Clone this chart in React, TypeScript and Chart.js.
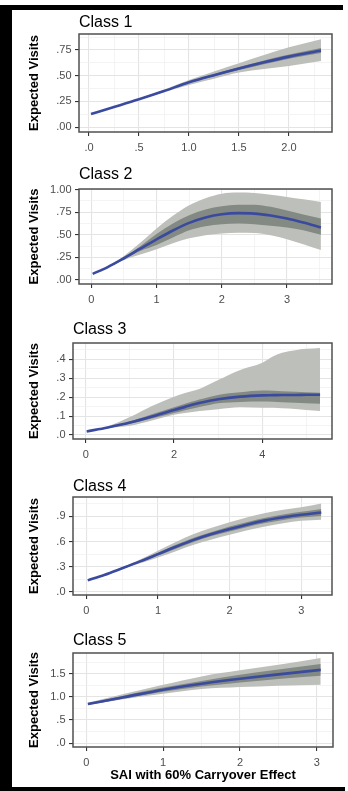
import React, { useEffect, useRef } from "react";
import { Chart, registerables } from "chart.js";

Chart.register(...registerables);

// ---------------- DATA ----------------
const classTitles = ["Class 1", "Class 2", "Class 3", "Class 4", "Class 5"];
const yAxisTitle = "Expected Visits";
const xAxisTitle = "SAI with 60% Carryover Effect";

// Class 1
const class1X = [0.02, 0.25, 0.5, 0.75, 1.0, 1.25, 1.5, 1.75, 2.0, 2.32];
const class1Fit = [0.127, 0.195, 0.27, 0.35, 0.435, 0.505, 0.57, 0.63, 0.685, 0.745];
const class1OuterLow = [0.125, 0.192, 0.265, 0.338, 0.41, 0.47, 0.53, 0.565, 0.594, 0.643];
const class1OuterHigh = [0.129, 0.198, 0.275, 0.362, 0.457, 0.54, 0.62, 0.7, 0.775, 0.853];
const class1InnerLow = [0.126, 0.194, 0.268, 0.346, 0.428, 0.495, 0.555, 0.612, 0.665, 0.72];
const class1InnerHigh = [0.128, 0.196, 0.272, 0.354, 0.442, 0.515, 0.585, 0.648, 0.705, 0.77];
const class1XTicks = [0, 0.5, 1, 1.5, 2];
const class1XTickLabels = [".0", ".5", "1.0", "1.5", "2.0"];
const class1YTicks = [0, 0.25, 0.5, 0.75];
const class1YTickLabels = [".00", ".25", ".50", ".75"];

// Class 2
const class2X = [0.02, 0.25, 0.5, 0.75, 1.0, 1.25, 1.5, 1.75, 2.0, 2.25, 2.5, 2.75, 3.0, 3.25, 3.52];
const class2Fit = [0.066, 0.14, 0.239, 0.345, 0.449, 0.547, 0.632, 0.692, 0.728, 0.74, 0.735, 0.713, 0.68, 0.635, 0.58];
const class2OuterLow = [0.064, 0.135, 0.22, 0.28, 0.34, 0.405, 0.46, 0.495, 0.515, 0.522, 0.52, 0.495, 0.45, 0.395, 0.33];
const class2OuterHigh = [0.068, 0.145, 0.265, 0.41, 0.57, 0.71, 0.827, 0.905, 0.955, 0.968, 0.963, 0.945, 0.92, 0.893, 0.865];
const class2InnerLow = [0.065, 0.138, 0.23, 0.32, 0.386, 0.47, 0.55, 0.595, 0.617, 0.625, 0.617, 0.6, 0.58, 0.55, 0.5];
const class2InnerHigh = [0.067, 0.142, 0.25, 0.372, 0.507, 0.625, 0.717, 0.78, 0.816, 0.832, 0.834, 0.81, 0.77, 0.725, 0.68];
const class2XTicks = [0, 1, 2, 3];
const class2XTickLabels = ["0", "1", "2", "3"];
const class2YTicks = [0, 0.25, 0.5, 0.75, 1.0];
const class2YTickLabels = [".00", ".25", ".50", ".75", "1.00"];

// Class 3
const class3X = [0.02, 0.5, 1.0, 1.5, 2.0, 2.25, 2.5, 2.65, 3.0, 3.5, 4.0, 4.25, 4.45, 4.75, 5.0, 5.31];
const class3Fit = [0.019, 0.04, 0.066, 0.098, 0.133, 0.149, 0.165, 0.173, 0.189, 0.203, 0.21, 0.211, 0.212, 0.212, 0.213, 0.213];
const class3OuterLow = [0.018, 0.036, 0.049, 0.077, 0.107, 0.116, 0.124, 0.128, 0.137, 0.147, 0.145, 0.144, 0.142, 0.138, 0.132, 0.127];
const class3OuterHigh = [0.02, 0.046, 0.095, 0.154, 0.203, 0.222, 0.238, 0.252, 0.291, 0.344, 0.382, 0.417, 0.435, 0.449, 0.456, 0.461];
const class3InnerLow = [0.0185, 0.038, 0.06, 0.088, 0.116, 0.131, 0.145, 0.152, 0.168, 0.175, 0.177, 0.176, 0.174, 0.171, 0.168, 0.165];
const class3InnerHigh = [0.0195, 0.042, 0.072, 0.11, 0.147, 0.166, 0.183, 0.192, 0.212, 0.226, 0.235, 0.234, 0.232, 0.229, 0.227, 0.224];
const class3XTicks = [0, 2, 4];
const class3XTickLabels = ["0", "2", "4"];
const class3YTicks = [0, 0.1, 0.2, 0.3, 0.4];
const class3YTickLabels = [".0", ".1", ".2", ".3", ".4"];

// Class 4
const class4X = [0.02, 0.25, 0.5, 0.75, 1.0, 1.25, 1.5, 1.75, 2.0, 2.25, 2.5, 2.75, 3.0, 3.28];
const class4Fit = [0.135, 0.2, 0.28, 0.362, 0.449, 0.537, 0.62, 0.69, 0.749, 0.805, 0.853, 0.89, 0.92, 0.948];
const class4OuterLow = [0.132, 0.195, 0.27, 0.34, 0.41, 0.485, 0.56, 0.625, 0.68, 0.735, 0.78, 0.82, 0.85, 0.862];
const class4OuterHigh = [0.138, 0.205, 0.29, 0.385, 0.49, 0.595, 0.69, 0.765, 0.83, 0.89, 0.94, 0.98, 1.01, 1.055];
const class4InnerLow = [0.134, 0.198, 0.275, 0.352, 0.433, 0.515, 0.595, 0.665, 0.72, 0.775, 0.822, 0.858, 0.887, 0.905];
const class4InnerHigh = [0.136, 0.202, 0.285, 0.372, 0.465, 0.56, 0.645, 0.715, 0.78, 0.835, 0.885, 0.925, 0.955, 0.99];
const class4XTicks = [0, 1, 2, 3];
const class4XTickLabels = ["0", "1", "2", "3"];
const class4YTicks = [0, 0.3, 0.6, 0.9];
const class4YTickLabels = [".0", ".3", ".6", ".9"];

// Class 5
const class5X = [0.02, 0.5, 1.0, 1.5, 2.0, 2.5, 3.05];
const class5Fit = [0.845, 0.995, 1.153, 1.282, 1.39, 1.483, 1.58];
const class5OuterLow = [0.82, 0.952, 1.067, 1.168, 1.21, 1.24, 1.26];
const class5OuterHigh = [0.87, 1.067, 1.26, 1.44, 1.57, 1.69, 1.836];
const class5InnerLow = [0.83, 0.965, 1.11, 1.22, 1.31, 1.385, 1.455];
const class5InnerHigh = [0.86, 1.03, 1.2, 1.34, 1.476, 1.59, 1.707];
const class5XTicks = [0, 1, 2, 3];
const class5XTickLabels = ["0", "1", "2", "3"];
const class5YTicks = [0, 0.5, 1.0, 1.5];
const class5YTickLabels = [".0", ".5", "1.0", "1.5"];

// ---------------- LAYOUT / STYLE ----------------
const FONT = "'Liberation Sans', Arial, Helvetica, sans-serif";
const OUTER_FILL = "#bdbfba";
const INNER_FILL = "#838983";
const LINE_COLOR = "#3a4a9e";
const GRID_MAJOR = "#e4e4e4";
const GRID_MINOR = "#efefef";
const FRAME = "#505050";
const TICK_TEXT = "#4d4d4d";

const CANVAS_LEFT = 12;
const CANVAS_RIGHT = 345;
const TITLE_SPACE = 28;

type PanelCfg = {
  title: string;
  x: number[];
  fit: number[];
  outerLow: number[];
  outerHigh: number[];
  innerLow: number[];
  innerHigh: number[];
  xTicks: number[];
  xTickLabels: string[];
  yTicks: number[];
  yTickLabels: string[];
  xMin: number;
  xMax: number;
  yMin: number;
  yMax: number;
  plot: { left: number; right: number; top: number; bottom: number };
  titleBaseline: number;
  showXTitle: boolean;
};

const panels: PanelCfg[] = [
  {
    title: classTitles[0], x: class1X, fit: class1Fit, outerLow: class1OuterLow, outerHigh: class1OuterHigh,
    innerLow: class1InnerLow, innerHigh: class1InnerHigh, xTicks: class1XTicks, xTickLabels: class1XTickLabels,
    yTicks: class1YTicks, yTickLabels: class1YTickLabels,
    xMin: -0.1, xMax: 2.43, yMin: -0.048, yMax: 0.905,
    plot: { left: 79, right: 332, top: 34, bottom: 132 }, titleBaseline: 28.3, showXTitle: false,
  },
  {
    title: classTitles[1], x: class2X, fit: class2Fit, outerLow: class2OuterLow, outerHigh: class2OuterHigh,
    innerLow: class2InnerLow, innerHigh: class2InnerHigh, xTicks: class2XTicks, xTickLabels: class2XTickLabels,
    yTicks: class2YTicks, yTickLabels: class2YTickLabels,
    xMin: -0.19, xMax: 3.69, yMin: -0.047, yMax: 1.008,
    plot: { left: 79, right: 332, top: 189, bottom: 284 }, titleBaseline: 180.3, showXTitle: false,
  },
  {
    title: classTitles[2], x: class3X, fit: class3Fit, outerLow: class3OuterLow, outerHigh: class3OuterHigh,
    innerLow: class3InnerLow, innerHigh: class3InnerHigh, xTicks: class3XTicks, xTickLabels: class3XTickLabels,
    yTicks: class3YTicks, yTickLabels: class3YTickLabels,
    xMin: -0.29, xMax: 5.58, yMin: -0.021, yMax: 0.487,
    plot: { left: 73, right: 332, top: 343, bottom: 439 }, titleBaseline: 335, showXTitle: false,
  },
  {
    title: classTitles[3], x: class4X, fit: class4Fit, outerLow: class4OuterLow, outerHigh: class4OuterHigh,
    innerLow: class4InnerLow, innerHigh: class4InnerHigh, xTicks: class4XTicks, xTickLabels: class4XTickLabels,
    yTicks: class4YTicks, yTickLabels: class4YTickLabels,
    xMin: -0.186, xMax: 3.43, yMin: -0.04, yMax: 1.133,
    plot: { left: 73, right: 332, top: 497, bottom: 595 }, titleBaseline: 491.7, showXTitle: false,
  },
  {
    title: classTitles[4], x: class5X, fit: class5Fit, outerLow: class5OuterLow, outerHigh: class5OuterHigh,
    innerLow: class5InnerLow, innerHigh: class5InnerHigh, xTicks: class5XTicks, xTickLabels: class5XTickLabels,
    yTicks: class5YTicks, yTickLabels: class5YTickLabels,
    xMin: -0.173, xMax: 3.21, yMin: -0.082, yMax: 1.944,
    plot: { left: 73, right: 333, top: 653, bottom: 747 }, titleBaseline: 646, showXTitle: true,
  },
];

function withMinors(majors: number[], min: number, max: number): number[] {
  const step = majors.length > 1 ? majors[1] - majors[0] : 1;
  const out: number[] = [];
  for (let v = majors[0] - step; v <= majors[majors.length - 1] + step + 1e-9; v += step / 2) {
    const r = Math.round(v * 1e6) / 1e6;
    if (r >= min - 1e-9 && r <= max + 1e-9) out.push(r);
  }
  return out;
}

function isIn(list: number[], v: number): number {
  for (let i = 0; i < list.length; i++) if (Math.abs(list[i] - v) < 1e-6) return i;
  return -1;
}

const framePlugin = {
  id: "panelFrame",
  afterDatasetsDraw(chart: any) {
    const { ctx, chartArea } = chart;
    const { left, top, right, bottom } = chartArea;
    ctx.save();
    ctx.strokeStyle = FRAME;
    ctx.lineWidth = 1.5;
    ctx.strokeRect(left, top, right - left, bottom - top);
    ctx.restore();
  },
};

function Panel({ cfg }: { cfg: PanelCfg }) {
  const ref = useRef<HTMLCanvasElement | null>(null);
  const xAxisH = cfg.showXTitle ? 38 : 24;
  const canvasTop = cfg.plot.top - TITLE_SPACE;
  const canvasH = cfg.plot.bottom - canvasTop + xAxisH;
  const canvasW = CANVAS_RIGHT - CANVAS_LEFT;

  useEffect(() => {
    if (!ref.current) return;
    const pts = (ys: number[]) => cfg.x.map((x, i) => ({ x, y: ys[i] }));
    const titlePadTop = cfg.titleBaseline - 5.5 - 9.6 - canvasTop;
    const titlePadBottom = TITLE_SPACE - 19.2 - titlePadTop;
    const yAxisW = cfg.plot.left - CANVAS_LEFT;
    const padRight = CANVAS_RIGHT - cfg.plot.right;
    const xAll = withMinors(cfg.xTicks, cfg.xMin, cfg.xMax);
    const yAll = withMinors(cfg.yTicks, cfg.yMin, cfg.yMax);

    const gridFor = (majors: number[]) => ({
      display: true,
      drawOnChartArea: true,
      drawTicks: true,
      tickLength: 4,
      color: (c: any) => (c.tick && isIn(majors, c.tick.value) >= 0 ? GRID_MAJOR : GRID_MINOR),
      lineWidth: (c: any) => (c.tick && isIn(majors, c.tick.value) >= 0 ? 1.1 : 0.7),
      tickColor: (c: any) => (c.tick && isIn(majors, c.tick.value) >= 0 ? "#333333" : "rgba(0,0,0,0)"),
      tickWidth: 1.1,
    });

    const common = {
      pointRadius: 0,
      pointHoverRadius: 0,
      cubicInterpolationMode: "monotone" as const,
    };

    const chart = new Chart(ref.current, {
      type: "line",
      data: {
        datasets: [
          { ...common, data: pts(cfg.outerLow), borderWidth: 0, borderColor: "rgba(0,0,0,0)", backgroundColor: OUTER_FILL, fill: false, order: 3 },
          { ...common, data: pts(cfg.outerHigh), borderWidth: 0, borderColor: "rgba(0,0,0,0)", backgroundColor: OUTER_FILL, fill: "-1", order: 3 },
          { ...common, data: pts(cfg.innerLow), borderWidth: 0, borderColor: "rgba(0,0,0,0)", backgroundColor: INNER_FILL, fill: false, order: 2 },
          { ...common, data: pts(cfg.innerHigh), borderWidth: 0, borderColor: "rgba(0,0,0,0)", backgroundColor: INNER_FILL, fill: "-1", order: 2 },
          { ...common, data: pts(cfg.fit), borderWidth: 2.6, borderColor: LINE_COLOR, backgroundColor: LINE_COLOR, fill: false, order: 1 },
        ],
      },
      options: {
        responsive: false,
        animation: false,
        devicePixelRatio: 1,
        layout: { padding: { left: 0, right: padRight, top: 0, bottom: 0 } },
        plugins: {
          legend: { display: false },
          tooltip: { enabled: false },
          title: {
            display: true,
            text: cfg.title,
            align: "start",
            fullSize: false,
            color: "#000000",
            font: { family: FONT, size: 16, weight: "normal", lineHeight: 1.2 },
            padding: { top: titlePadTop, bottom: titlePadBottom },
          },
        },
        scales: {
          x: {
            type: "linear",
            min: cfg.xMin,
            max: cfg.xMax,
            afterBuildTicks: (s: any) => {
              s.ticks = xAll.map((v) => ({ value: v }));
            },
            afterFit: (s: any) => {
              s.height = xAxisH;
            },
            border: { display: false },
            grid: gridFor(cfg.xTicks) as any,
            ticks: {
              autoSkip: false,
              maxRotation: 0,
              minRotation: 0,
              padding: 5,
              color: TICK_TEXT,
              font: { family: FONT, size: 11 },
              callback: (v: any) => {
                const i = isIn(cfg.xTicks, Number(v));
                return i >= 0 ? cfg.xTickLabels[i] : "";
              },
            },
            title: {
              display: cfg.showXTitle,
              text: xAxisTitle,
              color: "#000000",
              font: { family: FONT, size: 13, weight: "bold", lineHeight: 1.2 },
              padding: { top: 0, bottom: 2 },
            },
          },
          y: {
            type: "linear",
            min: cfg.yMin,
            max: cfg.yMax,
            afterBuildTicks: (s: any) => {
              s.ticks = yAll.map((v) => ({ value: v }));
            },
            afterFit: (s: any) => {
              s.width = yAxisW;
            },
            border: { display: false },
            grid: gridFor(cfg.yTicks) as any,
            ticks: {
              autoSkip: false,
              padding: 3.5,
              color: TICK_TEXT,
              font: { family: FONT, size: 11 },
              callback: (v: any) => {
                const i = isIn(cfg.yTicks, Number(v));
                return i >= 0 ? cfg.yTickLabels[i] : "";
              },
            },
            title: {
              display: true,
              text: yAxisTitle,
              color: "#000000",
              font: { family: FONT, size: 13, weight: "bold", lineHeight: 1.2 },
              padding: { top: 14.3, bottom: 0 },
            },
          },
        },
      },
      plugins: [framePlugin],
    } as any);
    return () => chart.destroy();
  }, []);

  return (
    <canvas
      ref={ref}
      width={canvasW}
      height={canvasH}
      style={{ position: "absolute", left: CANVAS_LEFT, top: canvasTop, width: canvasW, height: canvasH }}
    />
  );
}

export default function App() {
  return (
    <div
      style={{
        position: "absolute",
        left: 0,
        top: 0,
        width: 348,
        height: 791,
        background: "#ffffff",
        overflow: "hidden",
        fontFamily: FONT,
      }}
    >
      <div style={{ position: "absolute", left: 0, top: 5, width: 343, height: 4.5, background: "#000" }} />
      <div style={{ position: "absolute", left: 0, top: 5, width: 12, height: 786, background: "#000" }} />
      <div style={{ position: "absolute", left: 0, top: 787, width: 345, height: 4, background: "#000" }} />
      {panels.map((p, i) => (
        <Panel key={i} cfg={p} />
      ))}
    </div>
  );
}
